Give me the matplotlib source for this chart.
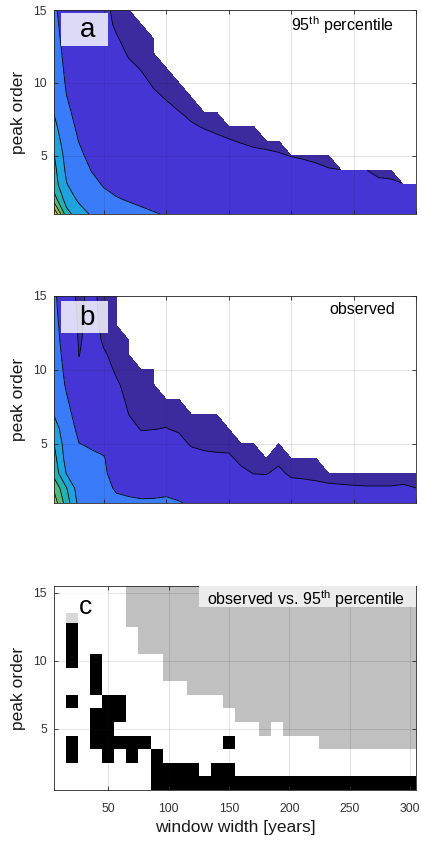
import numpy as np
import matplotlib.pyplot as plt
from matplotlib.colors import ListedColormap
from matplotlib.patches import Rectangle

plt.rcParams['font.family'] = ['Liberation Sans', 'DejaVu Sans']
plt.rcParams['mathtext.fontset'] = 'custom'
plt.rcParams['mathtext.rm'] = 'Liberation Sans'
plt.rcParams['mathtext.it'] = 'Liberation Sans:italic'

widths = np.arange(10, 310, 10)   # window width [years]
orders = np.arange(1, 16)         # peak order
nan = np.nan

# one list per window width, values for peak order 1, 2, ... (missing = no data)
p95 = [
    [8.0, 5.5, 4.5, 4.3, 4.05, 3.6, 3.25, 2.95, 2.8, 2.7, 2.6, 2.5, 2.4, 2.3, 2.2],
    [4.4, 3.5, 3.05, 2.8, 2.6, 2.45, 2.3, 2.15, 2.02, 1.9, 1.8, 1.7, 1.6, 1.5, 1.4],
    [3.4, 2.85, 2.55, 2.35, 2.15, 1.98, 1.85, 1.75, 1.65, 1.57, 1.5, 1.43, 1.37, 1.31, 1.25],
    [2.9, 2.5, 2.2, 1.98, 1.8, 1.65, 1.53, 1.45, 1.38, 1.32, 1.28, 1.24, 1.21, 1.19, 1.17],
    [2.6, 2.2, 1.95, 1.75, 1.6, 1.48, 1.4, 1.33, 1.28, 1.24, 1.2, 1.17, 1.14, 1.12, 1.1],
    [2.4, 2.05, 1.8, 1.6, 1.48, 1.38, 1.3, 1.24, 1.19, 1.15, 1.11, 1.07, 1.03, 0.95, 0.9],
    [2.25, 1.95, 1.65, 1.45, 1.35, 1.27, 1.21, 1.16, 1.12, 1.08, 1.04, 0.98, 0.9, 0.82, 0.75],
    [2.15, 1.85, 1.55, 1.38, 1.28, 1.2, 1.15, 1.11, 1.07, 1.04, 0.99, 0.9, 0.82, 0.75],
    [2.05, 1.75, 1.5, 1.33, 1.22, 1.15, 1.1, 1.06, 1.03, 0.98, 0.9, 0.83, 0.76],
    [1.95, 1.68, 1.45, 1.3, 1.2, 1.13, 1.08, 1.04, 0.99, 0.92, 0.85],
    [1.88, 1.62, 1.4, 1.27, 1.17, 1.1, 1.05, 1.005, 0.93, 0.87],
    [1.82, 1.57, 1.37, 1.24, 1.15, 1.08, 1.02, 0.96, 0.9],
    [1.77, 1.53, 1.34, 1.22, 1.13, 1.06, 0.99, 0.93],
    [1.72, 1.5, 1.31, 1.19, 1.1, 1.03, 0.97, 0.92],
    [1.68, 1.47, 1.29, 1.17, 1.08, 1.01, 0.95],
    [1.64, 1.44, 1.27, 1.15, 1.06, 0.99, 0.94],
    [1.6, 1.41, 1.25, 1.13, 1.04, 0.97, 0.93],
    [1.57, 1.39, 1.23, 1.11, 1.03, 0.96],
    [1.54, 1.37, 1.21, 1.1, 1.015, 0.95],
    [1.51, 1.35, 1.2, 1.08, 0.995],
    [1.49, 1.33, 1.18, 1.06, 0.98],
    [1.47, 1.31, 1.17, 1.04, 0.96],
    [1.45, 1.29, 1.15, 1.02, 0.9],
    [1.43, 1.27, 1.13, 1.005],
    [1.41, 1.26, 1.12, 1.003],
    [1.4, 1.25, 1.11, 1.01],
    [1.38, 1.24, 1.1, 0.9],
    [1.37, 1.22, 1.08, 0.88],
    [1.36, 1.21, 1.02],
    [1.35, 1.2, 1.06],
]

observed = [
    [6.6, 5.85, 4.64, 4.35, 4.02, 3.5, 2.95, 2.75, 2.6, 2.5, 2.42, 2.35, 2.3, 2.25, 2.2],
    [4.5, 4.05, 2.95, 2.6, 2.45, 2.35, 2.25, 2.08, 1.9, 1.8, 1.7, 1.6, 1.5, 1.35, 1.25],
    [2.7, 2.45, 2.3, 2.15, 2.01, 1.85, 1.65, 1.45, 1.3, 1.09, 0.99, 0.95, 0.93, 0.92, 0.9],
    [2.55, 2.35, 2.2, 2.08, 1.95, 1.75, 1.55, 1.4, 1.3, 1.25, 1.2, 1.17, 1.15, 1.13, 1.12],
    [2.35, 2.25, 2.15, 2.05, 1.8, 1.6, 1.45, 1.32, 1.22, 1.14, 1.04, 0.95, 0.9, 0.87, 0.85],
    [2.2, 1.9, 1.6, 1.5, 1.42, 1.33, 1.25, 1.15, 1.05, 0.95, 0.9, 0.86, 0.83, 0.81, 0.8],
    [2.13, 1.83, 1.5, 1.35, 1.25, 1.12, 0.995, 0.92, 0.88, 0.85, 0.82, 0.8],
    [2.08, 1.8, 1.5, 1.3, 1.15, 0.98, 0.92, 0.88, 0.85, 0.82],
    [2.1, 1.78, 1.5, 1.3, 1.15, 0.995, 0.92, 0.88, 0.85, 0.82],
    [2.15, 1.8, 1.5, 1.32, 1.17, 1.01, 0.93, 0.88],
    [2.05, 1.72, 1.45, 1.28, 1.12, 0.96, 0.9, 0.86],
    [1.9, 1.62, 1.38, 1.16, 0.96, 0.92, 0.88],
    [1.82, 1.55, 1.33, 1.12, 0.9, 0.86, 0.84],
    [1.77, 1.5, 1.3, 1.09, 0.88, 0.85, 0.83],
    [1.72, 1.46, 1.27, 1.08, 0.87, 0.84],
    [1.65, 1.4, 1.1, 0.9, 0.86],
    [1.55, 1.28, 0.99, 0.9, 0.86],
    [1.5, 1.25, 0.98, 0.88],
    [1.5, 1.28, 1.1, 0.9, 0.85],
    [1.45, 1.2, 0.92, 0.86],
    [1.42, 1.17, 0.9, 0.85],
    [1.4, 1.13, 0.87, 0.84],
    [1.37, 1.09, 0.82],
    [1.35, 1.07, 0.81],
    [1.33, 1.05, 0.8],
    [1.32, 1.04, 0.78],
    [1.32, 1.04, 0.78],
    [1.31, 1.04, 0.78],
    [1.33, 1.07, 0.8],
    [1.28, 1.005, 0.77],
]

# observed vs. 95th percentile, peak order 15 (top) down to 1
# '.' = not exceeded, '#' = exceeded, 'g' = no observed value
comparison = [
    "......" "gggggggg" "gggggggg" "gggggggg",
    "......" "gggggggg" "gggggggg" "gggggggg",
    ".#...." "gggggggg" "gggggggg" "gggggggg",
    ".#....." "gggggggg" "gggggggg" "ggggggg",
    ".#....." "gggggggg" "gggggggg" "ggggggg",
    ".#.#....." "gggggggg" "gggggggg" "ggggg",
    "...#....." "gggggggg" "gggggggg" "ggggg",
    "...#......." "gggggggg" "gggggggg" "ggg",
    ".#..##........" "gggggggg" "gggggggg",
    "...###........." "gggggggg" "ggggggg",
    "...##............g." "gggggggg" "ggg",
    ".#.#####......#......." "gggggggg",
    ".#..#.#.#" "........" "........" ".....",
    "........####.##" "........" ".......",
    "........" "########" "########" "######",
]

band_levels = [0, 1, 2, 3, 4, 5, 6, 7, 9]
band_colors = ['#3c2a9f', '#4535d5', '#3a7bfa', '#1ea3df',
               '#22b2b4', '#4dbc82', '#a6c23d', '#f0b632']


def to_grid(cols):
    return np.array([c + [nan] * (len(orders) - len(c)) for c in cols]).T


def style(ax):
    ax.set_axisbelow(False)
    ax.grid(True, color='#262626', alpha=0.15, linewidth=0.6)
    ax.tick_params(direction='in', length=3, width=0.6, colors='#262626',
                   labelcolor='#333333', labelsize=8.7, top=True, right=True)
    ax.tick_params(axis='y', pad=5)
    ax.tick_params(axis='x', pad=9)
    for s in ax.spines.values():
        s.set_linewidth(0.6)
        s.set_color('#262626')
    ax.set_ylabel('peak order', fontsize=12.5, color='#1a1a1a', labelpad=5)


def label_box(ax, x0, y0, w, h, alpha):
    ax.add_patch(Rectangle((x0, y0), w, h, facecolor='white', edgecolor='none',
                           alpha=alpha, zorder=4))


fig = plt.figure(figsize=(4.21, 8.43), dpi=100)
ax_a = fig.add_axes([54 / 421, 1 - 214 / 843, 362 / 421, 204 / 843])
ax_b = fig.add_axes([54 / 421, 1 - 503 / 843, 362 / 421, 207 / 843])
ax_c = fig.add_axes([54 / 421, 1 - 790 / 843, 362 / 421, 204 / 843])

for ax, cols in [(ax_a, p95), (ax_b, observed)]:
    Z = to_grid(cols)
    ax.contourf(widths, orders, Z, levels=band_levels, colors=band_colors)
    ax.contour(widths, orders, Z, levels=band_levels[1:-1], colors='k', linewidths=0.6)
    ax.set_xlim(10, 300)
    ax.set_ylim(1, 15)
    ax.set_xticks([50, 100, 150, 200, 250, 300])
    ax.set_xticklabels([])
    ax.set_yticks([5, 10, 15])
    style(ax)

ax_a.text(282, 13.95, r'95$^{\mathrm{th}}$ percentile', ha='right', va='center',
          fontsize=11.5, color='black')
label_box(ax_a, 15.6, 12.53, 37.4, 2.24, 0.82)
ax_a.text(36.6, 13.17, 'a', ha='center', va='baseline', fontsize=20, zorder=5)

ax_b.text(283.5, 14.1, 'observed', ha='right', va='center', fontsize=11.5, color='black')
label_box(ax_b, 15.6, 12.5, 37.4, 2.16, 0.82)
ax_b.text(36.6, 13.04, 'b', ha='center', va='baseline', fontsize=20, zorder=5)

code = {'.': 0, '#': 1, 'g': 2}
C = np.array([[code[ch] for ch in row] for row in comparison[::-1]])
x_edges = np.append(widths - 5, widths[-1] + 5)
y_edges = np.append(orders - 0.5, orders[-1] + 0.5)
ax_c.pcolormesh(x_edges, y_edges, C, cmap=ListedColormap(['white', 'black', '#c0c0c0']),
                vmin=-0.5, vmax=2.5)
ax_c.set_xlim(5, 305)
ax_c.set_ylim(0.5, 15.5)
ax_c.set_xticks([50, 100, 150, 200, 250, 300])
ax_c.set_yticks([5, 10, 15])
style(ax_c)
ax_c.set_xlabel('window width [years]', fontsize=12.5, color='#1a1a1a', labelpad=4)

ax_c.add_patch(Rectangle((125, 13.95), 180, 1.55, facecolor='#ececec', edgecolor='none', zorder=4))
ax_c.text(213.6, 14.08, r'observed vs. 95$^{\mathrm{th}}$ percentile', ha='center',
          va='baseline', fontsize=11.5, color='black', zorder=5)
label_box(ax_c, 10.8, 12.78, 38.9, 2.4, 0.85)
ax_c.text(31.5, 13.43, 'c', ha='center', va='baseline', fontsize=19, zorder=5)

fig.savefig('out.png', dpi=100)
